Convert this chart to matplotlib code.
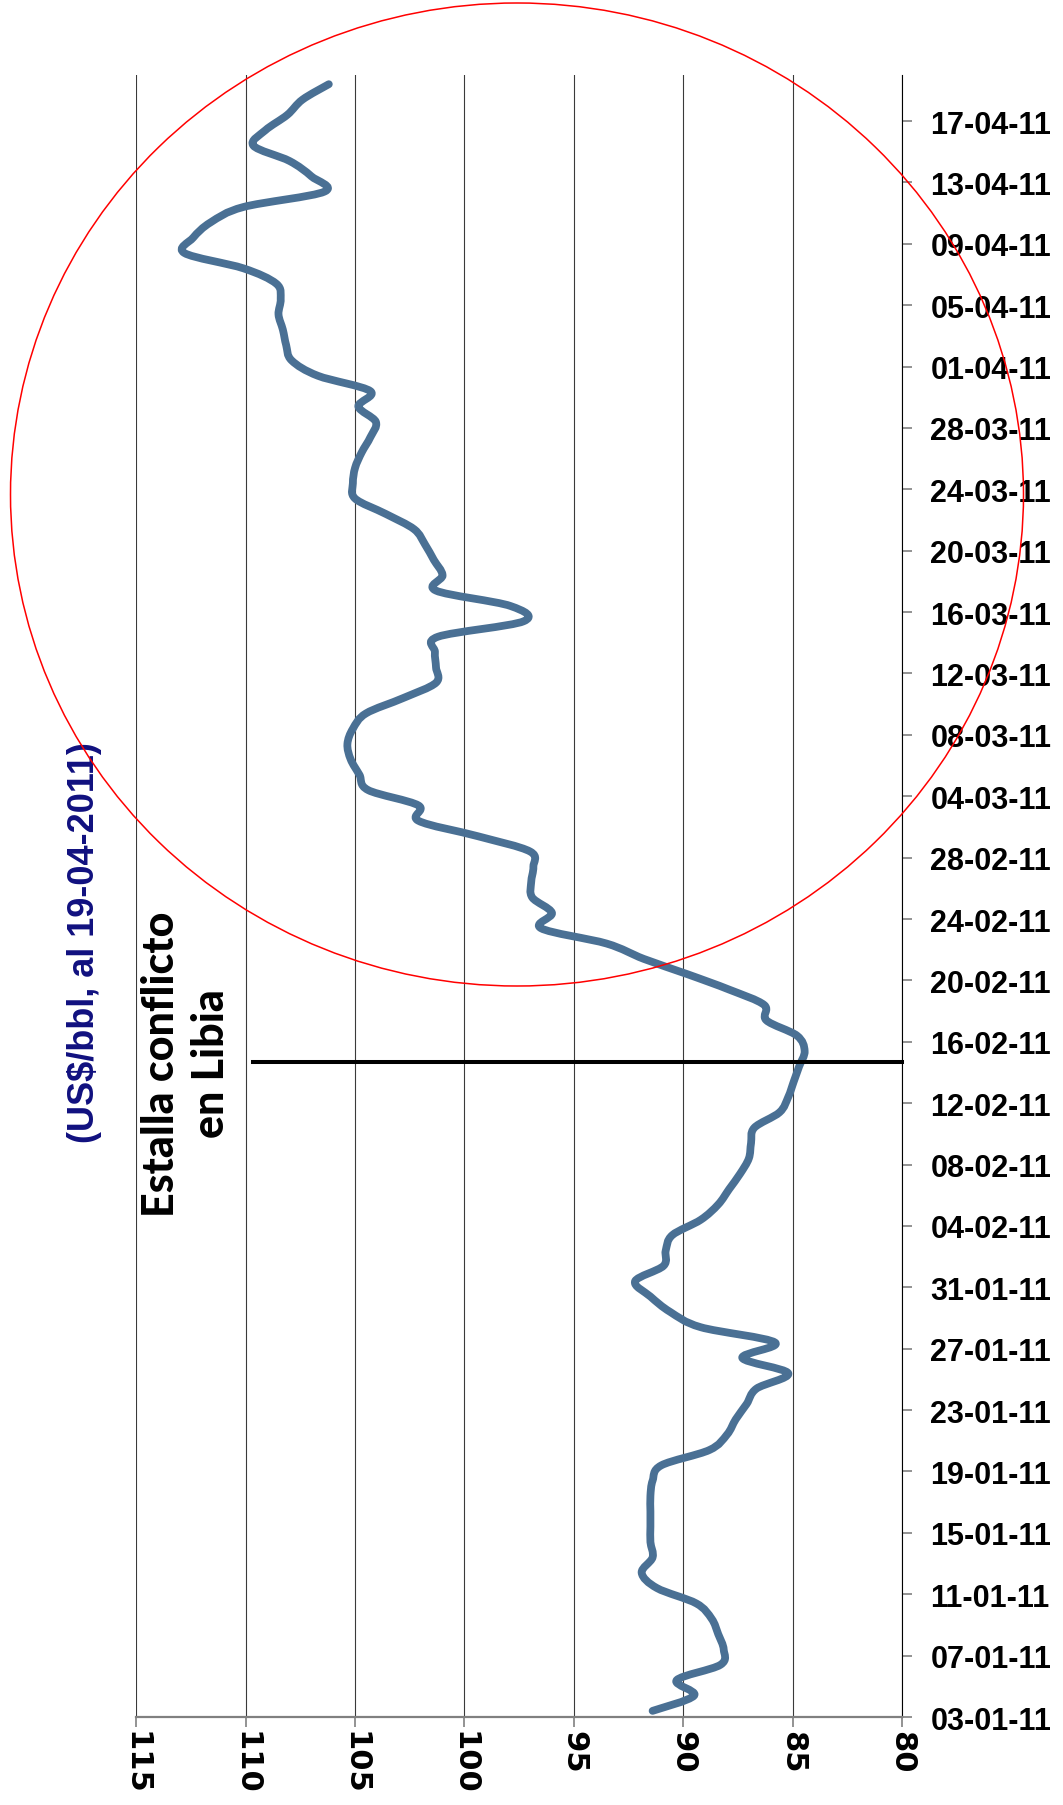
import matplotlib
matplotlib.use("Agg")
import matplotlib.pyplot as plt
import matplotlib.dates as mdates
from matplotlib.patches import Ellipse, PathPatch
from matplotlib.path import Path
import numpy as np
import pandas as pd

plt.rcParams['font.family'] = ['Liberation Sans', 'DejaVu Sans']

# daily Brent price (US$/bbl), 03-01-2011 .. 19-04-2011
dates = pd.date_range('2011-01-03', '2011-04-19', freq='D')
prices = [91.4, 89.5, 90.3, 88.3, 88.15, 88.4, 88.7, 89.4, 91.2, 91.9,
          91.4, 91.5, 91.5, 91.5, 91.5, 91.4, 91.0, 88.8, 88.0, 87.6,
          87.1, 86.65, 85.2, 87.3, 85.8, 89.2, 90.6, 91.5, 92.2, 90.9,
          90.8, 90.5, 89.2, 88.4, 87.9, 87.4, 87.0, 86.9, 86.75, 85.6,
          85.2, 84.95, 84.7, 84.45, 84.8, 86.2, 86.3, 87.9, 89.8, 91.8,
          93.5, 96.5, 96.0, 96.9, 96.95, 96.85, 97.0, 99.4, 102.1, 102.1,
          104.4, 104.8, 105.2, 105.35, 105.1, 104.5, 102.8, 101.3, 101.3, 101.35,
          101.2, 97.3, 97.9, 101.3, 101.0, 101.4, 101.8, 102.3, 103.6, 105.0,
          105.1, 105.0, 104.7, 104.3, 104.05, 104.85, 104.3, 106.7, 107.9, 108.15,
          108.3, 108.5, 108.4, 108.6, 110.1, 112.8, 112.4, 111.6, 110.1, 106.4,
          107.0, 108.0, 109.65, 109.1, 108.1, 107.4, 106.2]

tick_dates = pd.date_range('2011-01-03', '2011-04-17', freq='4D')
value_ticks = [115, 110, 105, 100, 95, 90, 85, 80]

event_date = pd.Timestamp('2011-02-14 16:30')
event_text = 'Estalla conflicto\nen Libia'
unit_text = '(US$/bbl, al 19-04-2011)'

fig = plt.figure(figsize=(10.63, 18.06), dpi=100)
ax = fig.add_axes([0.12822, 0.048726, 0.72032, 0.90919])

# smoothed line like the spreadsheet's "smoothed line" option (bezier through the points)
ynum = mdates.date2num(dates) + 0.4
pts = np.column_stack([prices, ynum])
n = len(pts)
verts = [pts[0]]
codes = [Path.MOVETO]
for i in range(n - 1):
    p0 = pts[i - 1] if i > 0 else pts[i]
    p1 = pts[i]
    p2 = pts[i + 1]
    p3 = pts[i + 2] if i + 2 < n else pts[i + 1]
    verts += [p1 + (p2 - p0) / 6, p2 - (p3 - p1) / 6, p2]
    codes += [Path.CURVE4] * 3
line = PathPatch(Path(verts, codes), fill=False, edgecolor='#4A7094', lw=5.6,
                 capstyle='round', joinstyle='round', zorder=3)
ax.add_patch(line)

# event marker line
ev = mdates.date2num(event_date)
ax.plot([109.65, 80], [ev, ev], color='black', lw=2.9, zorder=4, clip_on=False)

ax.set_xlim(115, 80)
ax.set_ylim(mdates.date2num(pd.Timestamp('2011-01-03')),
            mdates.date2num(pd.Timestamp('2011-04-20')))

ax.set_xticks(value_ticks)
ax.set_xticklabels([str(v) for v in value_ticks], rotation=270,
                   fontsize=22, fontweight='bold', family='DejaVu Sans')
ax.set_yticks(mdates.date2num(tick_dates))
ax.set_yticklabels([d.strftime('%d-%m-%y') for d in tick_dates],
                   fontsize=22, fontweight='bold')
ax.yaxis.tick_right()

ax.grid(axis='x', color='#3a3a3a', lw=0.8)
ax.set_axisbelow(True)
ax.tick_params(axis='x', length=7.5, width=1.2, color='#808080', pad=2)
ax.tick_params(axis='y', length=7.5, width=1.2, color='#808080', pad=13,
               right=True, left=False)

for s in ['top', 'left']:
    ax.spines[s].set_visible(False)
ax.spines['bottom'].set_color('#808080')
ax.spines['bottom'].set_linewidth(1.6)
ax.spines['right'].set_color('black')
ax.spines['right'].set_linewidth(0.8)

fig.text(85 / 1063, 1 - 943 / 1806, unit_text, rotation=90, color='#10107F',
         fontsize=26, fontweight='bold', ha='center', va='center')
fig.text(186 / 1063, 1 - 1064 / 1806, event_text, rotation=90, color='black',
         fontsize=31, fontweight='black', ha='center', va='center',
         family='Lato', linespacing=1.3, multialignment='center')

circle = Ellipse((517 / 1063, 1 - 495.5 / 1806), 1013 / 1063, 983 / 1806,
                 transform=fig.transFigure, fill=False, edgecolor='red',
                 lw=1.1, zorder=10)
fig.patches.append(circle)

fig.savefig('out.png', dpi=100)
